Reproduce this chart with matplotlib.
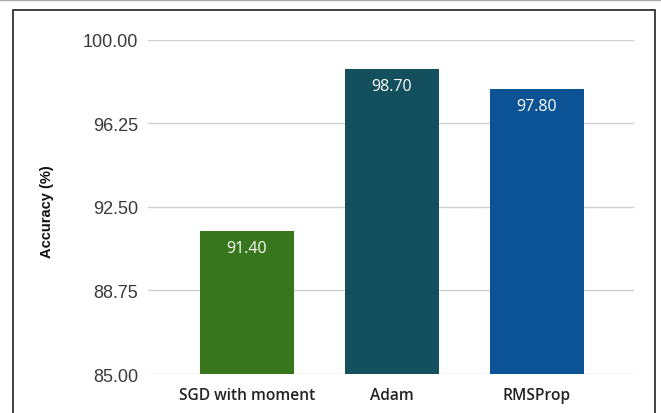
import numpy as np
import matplotlib.pyplot as plt
from matplotlib.patches import Rectangle
from matplotlib.lines import Line2D

# Данные
optimizers = ["SGD with moment", "Adam", "RMSProp"]
accuracy = [91.40, 98.70, 97.80]
bar_colors = ["#38761d", "#134f5c", "#0b5394"]
y_ticks = [85.00, 88.75, 92.50, 96.25, 100.00]

fig = plt.figure(figsize=(6.61, 4.14), dpi=100)
ax = fig.add_axes([0.224, 0.0942, 0.735, 0.807])

x = np.arange(len(optimizers))
bars = ax.bar(x, accuracy, width=0.65, color=bar_colors, zorder=3)

for b, v in zip(bars, accuracy):
    ax.annotate(f"{v:.2f}", (b.get_x() + b.get_width() / 2, v),
                xytext=(0, -17), textcoords="offset pixels",
                ha="center", va="center", color="white",
                fontsize=11.5, family="Open Sans", zorder=4)

ax.set_ylim(85, 100)
ax.set_xlim(-0.68, 2.67)
ax.set_yticks(y_ticks)
ax.set_yticklabels([f"{t:.2f}" for t in y_ticks], family="Liberation Sans",
                   fontsize=13, color="#3a3a3a")
ax.set_xticks(x)
ax.set_xticklabels(optimizers, family="Open Sans", fontweight="semibold",
                   fontsize=11.2, color="#222222")
ax.tick_params(axis="both", length=0)
ax.tick_params(axis="y", pad=7)
ax.tick_params(axis="x", pad=9)
ax.grid(axis="y", color="#d0d0d0", linewidth=1, zorder=0)
for s in ax.spines.values():
    s.set_visible(False)

fig.text(0.071, 0.488, "Accuracy (%)", rotation=90, ha="center", va="center",
         family="Liberation Sans", fontweight="bold", fontsize=10.5, color="#111111")

# Рамка
fig.patches.append(Rectangle((0.0197, -0.05), 0.971, 1.024, transform=fig.transFigure,
                             fill=False, edgecolor="#222222", linewidth=1.2))
fig.lines.append(Line2D([0, 1], [0.998, 0.998], transform=fig.transFigure,
                        color="#aaaaaa", linewidth=1))

fig.savefig("out.png", dpi=100)
